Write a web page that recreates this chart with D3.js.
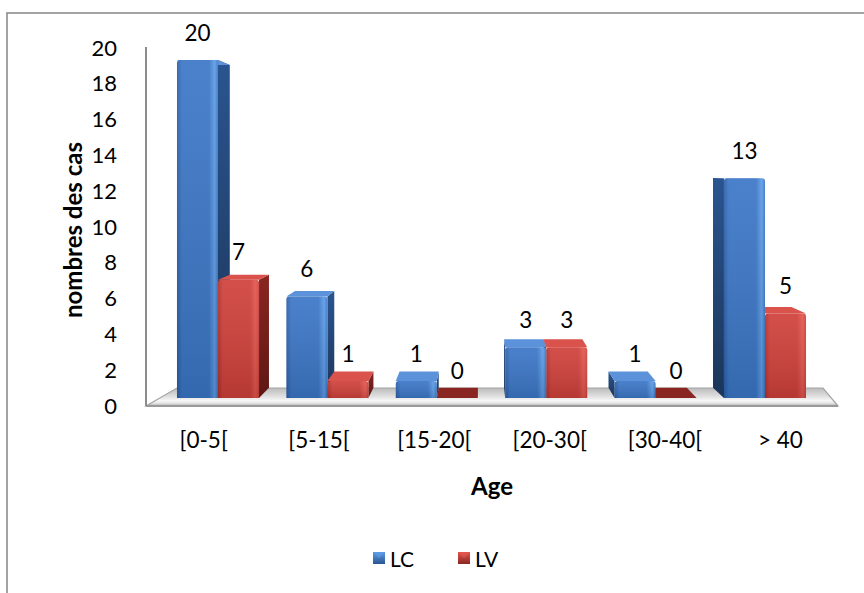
<!DOCTYPE html>
<html>
<head>
<meta charset="utf-8">
<script src="https://cdn.jsdelivr.net/npm/d3@7/dist/d3.min.js"></script>
<style>
  html, body { margin: 0; padding: 0; background: #fff; }
  svg { display: block; font-family: Lato, "Open Sans", sans-serif; }
</style>
</head>
<body>
<svg id="chart" width="864" height="593"></svg>
<script>
// Age groups and case counts per series
const categories = ["[0-5[", "[5-15[", "[15-20[", "[20-30[", "[30-40[", "> 40"];
const seriesNames = ["LC", "LV"];
const lcValues = [20, 6, 1, 3, 1, 13];
const lvValues = [7, 1, 0, 3, 0, 5];
const yTicks = [0, 2, 4, 6, 8, 10, 12, 14, 16, 18, 20];

const svg = d3.select("#chart");
const defs = svg.append("defs");

// Front (axis) plane and bar plane scales
const yAxisScale = d3.scaleLinear().domain([0, 20]).range([406, 48]);
const yBar = d3.scaleLinear().domain([0, 20]).range([398, 60]);
const xFront = d3.scaleBand().domain(categories).range([146, 838]);
const xBar = d3.scaleBand().domain(categories).range([163.3, 819.7])
  .paddingInner(0.25).paddingOuter(0.125);
const xSeries = d3.scaleBand().domain(seriesNames).range([0, xBar.bandwidth()]);

// Perspective: back face points move toward a vanishing point
const VP = { x: 480, y: 170 };
const DEPTH = 0.045;
const back = (x, y) => [x + (VP.x - x) * DEPTH, y + (VP.y - y) * DEPTH];

const palette = {
  LC: { light: "#5d9ce6", main: "#3b76c6", dark: "#2c5ea8", side1: "#2a5590", side2: "#1b3559", top: "#5b92da" },
  LV: { light: "#e2574f", main: "#cf403a", dark: "#b12f2b", side1: "#8a2622", side2: "#5e1714", top: "#d9524c" }
};

// Gradients for bar faces
seriesNames.forEach(s => {
  const c = palette[s];
  const g = defs.append("linearGradient").attr("id", "front-" + s)
    .attr("x1", 0).attr("y1", 0).attr("x2", 1).attr("y2", 0);
  g.append("stop").attr("offset", "0%").attr("stop-color", c.dark);
  g.append("stop").attr("offset", "12%").attr("stop-color", c.main);
  g.append("stop").attr("offset", "78%").attr("stop-color", c.main);
  g.append("stop").attr("offset", "92%").attr("stop-color", c.light);
  g.append("stop").attr("offset", "100%").attr("stop-color", c.main);
  const sg = defs.append("linearGradient").attr("id", "side-" + s)
    .attr("x1", 0).attr("y1", 0).attr("x2", 0).attr("y2", 1);
  sg.append("stop").attr("offset", "0%").attr("stop-color", c.side1);
  sg.append("stop").attr("offset", "100%").attr("stop-color", c.side2);
  const lg = defs.append("linearGradient").attr("id", "legend-" + s)
    .attr("x1", 0).attr("y1", 0).attr("x2", 0).attr("y2", 1);
  lg.append("stop").attr("offset", "0%").attr("stop-color", c.light);
  lg.append("stop").attr("offset", "100%").attr("stop-color", c.side1);
});
const shade = defs.append("linearGradient").attr("id", "shade")
  .attr("x1", 0).attr("y1", 0).attr("x2", 0).attr("y2", 1);
shade.append("stop").attr("offset", "0%").attr("stop-color", "#fff").attr("stop-opacity", 0.08);
shade.append("stop").attr("offset", "100%").attr("stop-color", "#000").attr("stop-opacity", 0.12);

const floorGrad = defs.append("linearGradient").attr("id", "floor")
  .attr("x1", 0).attr("y1", 0).attr("x2", 0).attr("y2", 1);
[["0%", "#bcbcbc"], ["45%", "#dedede"], ["70%", "#f7f7f7"], ["85%", "#e4e4e4"], ["100%", "#a9a9a9"]]
  .forEach(([o, c]) => floorGrad.append("stop").attr("offset", o).attr("stop-color", c));

// Chart area border
svg.append("rect").attr("x", 7).attr("y", 13).attr("width", 900).attr("height", 700)
  .attr("fill", "none").attr("stroke", "#8c8c8c").attr("stroke-width", 1.6);

// Floor
const [fx0, fx1] = xFront.range();
const fy = yAxisScale(0);
const floorPts = [[fx0, fy], [fx0 + 31, fy - 18], [fx1 - 15, fy - 18], [fx1, fy]];
svg.append("polygon").attr("points", floorPts.map(p => p.join(",")).join(" "))
  .attr("fill", "url(#floor)").attr("stroke", "#a4a4a4").attr("stroke-width", 1.2);
svg.append("line").attr("x1", fx0).attr("x2", fx1).attr("y1", fy).attr("y2", fy)
  .attr("stroke", "#9a9a9a").attr("stroke-width", 2);

// Value axis
const yAxisG = svg.append("g").attr("transform", `translate(${fx0},0)`)
  .call(d3.axisLeft(yAxisScale).tickValues(yTicks).tickSize(0).tickPadding(29));
yAxisG.select(".domain").remove();
yAxisG.selectAll("text").attr("font-size", 22).attr("font-family", "Lato, sans-serif").attr("fill", "#000");
svg.append("line").attr("x1", fx0).attr("x2", fx0).attr("y1", yAxisScale(20) - 1).attr("y2", fy)
  .attr("stroke", "#8c8c8c").attr("stroke-width", 2);

// Category axis
const xAxisG = svg.append("g").attr("transform", `translate(0,${fy})`)
  .call(d3.axisBottom(xFront).tickSize(0).tickPadding(26));
xAxisG.select(".domain").remove();
xAxisG.selectAll("text").attr("font-size", 22.5).attr("font-family", "Lato, sans-serif").attr("fill", "#000");

// Axis titles
svg.append("text").attr("x", 492).attr("y", 485).attr("text-anchor", "middle")
  .attr("dominant-baseline", "central").attr("font-size", 24).attr("font-weight", "bold").text("Age");
svg.append("text").attr("transform", "translate(72,230) rotate(-90)").attr("text-anchor", "middle")
  .attr("dominant-baseline", "central").attr("font-size", 24).attr("font-weight", "bold").text("nombres des cas");

// Bars
const bars = [];
categories.forEach((cat, i) => {
  [["LC", lcValues[i]], ["LV", lvValues[i]]].forEach(([s, v]) => {
    const x0 = xBar(cat) + xSeries(s);
    bars.push({ cat, s, v, x0, x1: x0 + xSeries.bandwidth(), yT: yBar(v), yB: yBar(0) });
  });
});
// paint farther bars first so nearer faces cover their neighbours
bars.sort((a, b) => Math.abs((b.x0 + b.x1) / 2 - VP.x) - Math.abs((a.x0 + a.x1) / 2 - VP.x));

const barG = svg.append("g");
bars.forEach(b => {
  const g = barG.append("g");
  const c = palette[b.s];
  const ftl = [b.x0, b.yT], ftr = [b.x1, b.yT], fbl = [b.x0, b.yB], fbr = [b.x1, b.yB];
  const btl = back(...ftl), btr = back(...ftr), bbl = back(...fbl), bbr = back(...fbr);
  // side face facing the viewer
  const side = b.x1 < VP.x ? [ftr, btr, bbr, fbr] : (b.x0 > VP.x ? [ftl, btl, bbl, fbl] : null);
  if (side) g.append("polygon").attr("points", side.map(p => p.join(",")).join(" "))
    .attr("fill", `url(#side-${b.s})`);
  // top face
  g.append("polygon").attr("points", [ftl, ftr, btr, btl].map(p => p.join(",")).join(" "))
    .attr("fill", b.v === 0 ? c.side1 : c.top);
  // front face
  if (b.v > 0) {
    const h = b.yB - b.yT, r = Math.min(3, h / 2);
    const path = `M${b.x0},${b.yB} V${b.yT + r} Q${b.x0},${b.yT} ${b.x0 + r},${b.yT} H${b.x1 - r} Q${b.x1},${b.yT} ${b.x1},${b.yT + r} V${b.yB} Z`;
    g.append("path").attr("d", path).attr("fill", `url(#front-${b.s})`);
    g.append("path").attr("d", path).attr("fill", "url(#shade)");
  }
});

// Data labels
const labelG = svg.append("g");
bars.forEach(b => {
  labelG.append("text").attr("x", (b.x0 + b.x1) / 2).attr("y", b.yT - 28)
    .attr("text-anchor", "middle").attr("dominant-baseline", "central")
    .attr("font-size", 22.5).text(b.v);
});

// Legend
const legendX = d3.scaleOrdinal().domain(seriesNames).range([373, 458]);
const lgG = svg.append("g");
seriesNames.forEach(s => {
  const x = legendX(s);
  lgG.append("rect").attr("x", x).attr("y", 552).attr("width", 12).attr("height", 12)
    .attr("fill", `url(#legend-${s})`);
  lgG.append("polygon").attr("points", `${x},552 ${x + 12},552 ${x + 6},558`)
    .attr("fill", palette[s].light).attr("opacity", 0.7);
  lgG.append("text").attr("x", x + 17).attr("y", 558).attr("dominant-baseline", "central")
    .attr("font-size", 21).text(s);
});
</script>
</body>
</html>
